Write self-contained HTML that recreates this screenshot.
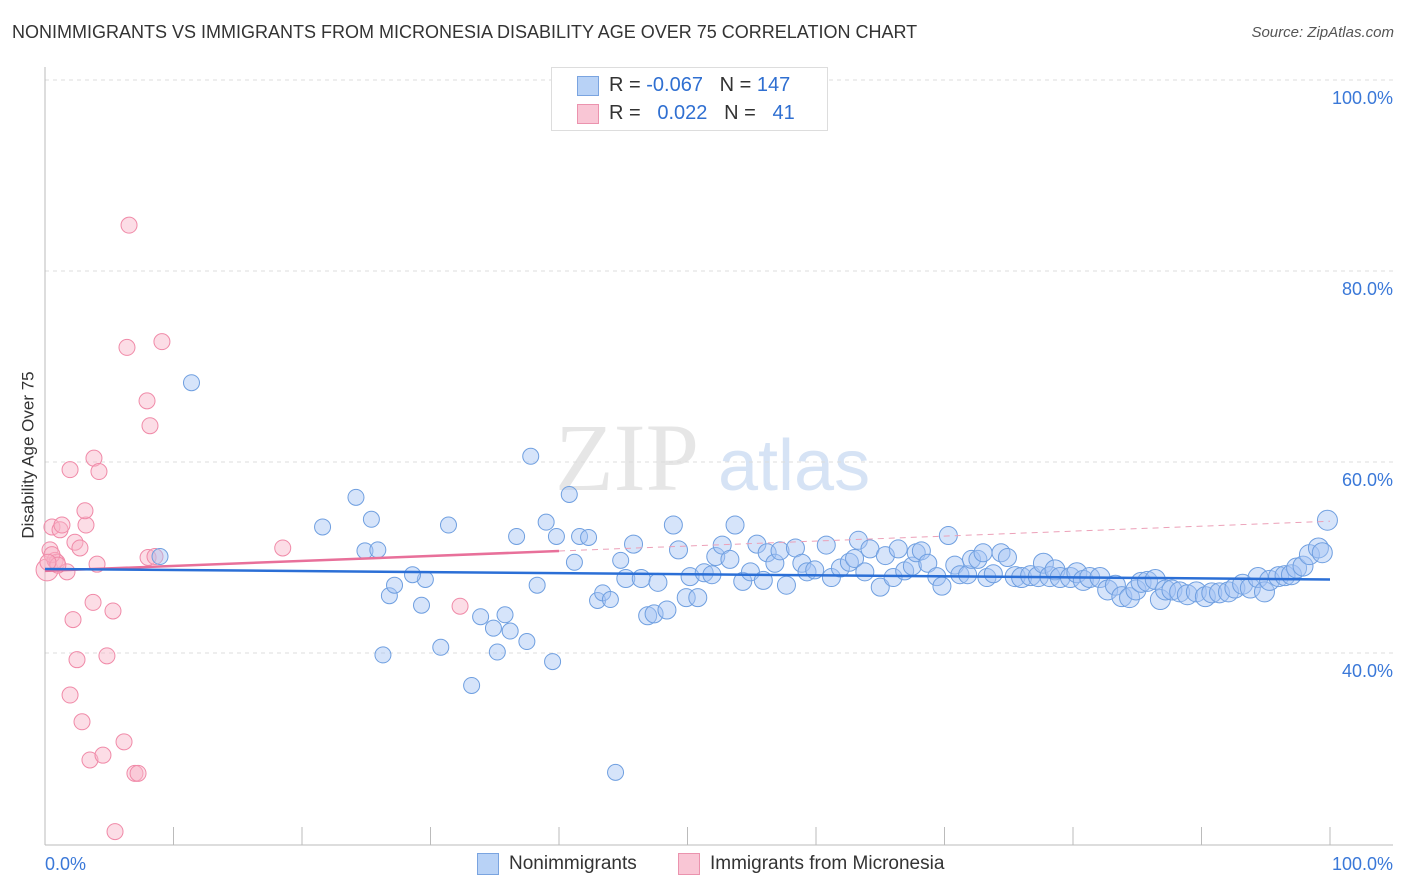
<!DOCTYPE html>
<html><head><meta charset="utf-8"><style>
body{margin:0;background:#fff;font-family:"Liberation Sans",sans-serif;}
#wrap{position:relative;width:1406px;height:892px;overflow:hidden;}
.t{position:absolute;white-space:nowrap;}
</style></head><body>
<div id="wrap">
<div class="t" style="left:12px;top:22px;font-size:18px;color:#333;">NONIMMIGRANTS VS IMMIGRANTS FROM MICRONESIA DISABILITY AGE OVER 75 CORRELATION CHART</div>
<div class="t" style="right:12px;top:24px;font-size:15px;color:#555;font-style:italic;">Source: ZipAtlas.com</div>
<div class="t" style="left:-55px;top:445px;font-size:17px;color:#333;transform:rotate(-90deg);">Disability Age Over 75</div>
<svg id="plot" width="1406" height="892" style="position:absolute;left:0;top:0;"></svg>
<div style="position:absolute;left:551px;top:67px;width:275px;height:62px;border:1px solid #ddd;background:#fff;">
 <div style="position:absolute;left:25px;top:8px;width:20px;height:18px;background:#b8d2f6;border:1px solid #7aa4e0;"></div>
 <div class="t" style="left:57px;top:6px;font-size:20px;color:#333;">R = <span style="color:#2f6fd1">-0.067</span>&nbsp;&nbsp;&nbsp;N = <span style="color:#2f6fd1">147</span></div>
 <div style="position:absolute;left:25px;top:36px;width:20px;height:18px;background:#f9c6d5;border:1px solid #eb93ae;"></div>
 <div class="t" style="left:57px;top:34px;font-size:20px;color:#333;">R = &nbsp;&nbsp;<span style="color:#2f6fd1">0.022</span>&nbsp;&nbsp;&nbsp;N = &nbsp;&nbsp;<span style="color:#2f6fd1">41</span></div>
</div>
<div style="position:absolute;left:477px;top:853px;width:20px;height:20px;background:#b8d2f6;border:1px solid #7aa4e0;"></div>
<div class="t" style="left:509px;top:853px;font-size:19px;color:#333;">Nonimmigrants</div>
<div style="position:absolute;left:678px;top:853px;width:20px;height:20px;background:#f9c6d5;border:1px solid #eb93ae;"></div>
<div class="t" style="left:710px;top:853px;font-size:19px;color:#333;">Immigrants from Micronesia</div>
</div>
<script>
const yTicks=[100,80,60,40];
const yTickLabels=["100.0%","80.0%","60.0%","40.0%"];
const xTicks=[0,10,20,30,40,50,60,70,80,90,100];
const xEndLabels=["0.0%","100.0%"];
const blueX=[8.95,11.4,21.6,24.2,24.9,25.4,25.9,26.3,26.8,27.2,29.3,29.6,28.6,30.8,31.4,33.2,33.9,34.9,35.2,35.8,36.2,36.7,37.5,37.8,38.3,39.0,39.5,39.8,40.8,41.2,41.6,42.3,43.0,43.4,44.0,44.4,44.8,45.2,45.8,46.4,46.9,47.4,47.7,48.4,48.9,49.3,49.9,50.2,50.8,51.3,51.9,52.2,52.7,53.3,53.7,54.3,54.9,55.4,55.9,56.2,56.8,57.2,57.7,58.4,58.9,59.3,59.9,60.8,61.2,61.9,62.6,63.0,63.3,63.8,64.2,65.0,65.4,66.0,66.4,66.9,67.5,67.8,68.2,68.7,69.4,69.8,70.3,70.8,71.2,71.8,72.1,72.6,73.0,73.3,73.8,74.4,74.9,75.5,76.0,76.7,77.3,77.7,78.2,78.6,79.0,79.8,80.3,80.8,81.3,82.1,82.7,83.3,83.8,84.4,84.9,85.3,85.8,86.4,86.8,87.2,87.7,88.3,88.9,89.6,90.3,90.8,91.4,92.1,92.6,93.2,93.8,94.4,94.9,95.3,96.0,96.5,97.0,97.4,97.9,98.4,99.1,99.4,99.8];
const blueY=[50.1,68.3,53.2,56.3,50.7,54.0,50.8,39.8,46.0,47.1,45.0,47.7,48.2,40.6,53.4,36.6,43.8,42.6,40.1,44.0,42.3,52.2,41.2,60.6,47.1,53.7,39.1,52.2,56.6,49.5,52.2,52.1,45.5,46.3,45.6,27.5,49.7,47.8,51.4,47.8,43.9,44.1,47.4,44.5,53.4,50.8,45.8,48.0,45.8,48.4,48.2,50.1,51.3,49.8,53.4,47.5,48.5,51.4,47.6,50.5,49.4,50.7,47.1,51.0,49.4,48.5,48.7,51.3,47.9,48.9,49.5,49.9,51.8,48.5,50.9,46.9,50.2,47.9,50.9,48.6,49.1,50.5,50.7,49.4,48.0,47.0,52.3,49.2,48.2,48.2,49.8,49.8,50.5,47.9,48.3,50.5,50.0,48.0,47.9,48.1,48.0,49.4,48.0,48.7,47.9,47.9,48.4,47.6,47.9,47.9,46.6,47.1,45.9,45.8,46.6,47.4,47.5,47.7,45.6,46.6,46.6,46.4,46.1,46.4,45.9,46.3,46.3,46.4,46.8,47.2,46.8,47.9,46.4,47.6,48.0,48.1,48.2,48.9,49.1,50.3,51.0,50.5,53.9];
const pinkX=[0.16,0.39,0.54,0.78,1.17,1.32,0.93,1.71,1.95,2.18,2.33,2.49,1.95,2.88,3.19,3.11,2.72,3.5,3.81,4.05,4.2,3.74,4.51,4.82,5.29,5.45,6.15,6.54,6.38,7.0,7.24,7.94,8.17,8.02,8.56,9.1,18.5,32.3,0.54,1.0,0.23];
const pinkY=[48.7,50.8,53.2,49.7,52.9,53.4,49.5,48.5,59.2,43.5,51.6,39.3,35.6,32.8,53.4,54.9,51.0,28.8,60.4,49.3,59.0,45.3,29.3,39.7,44.4,21.3,30.7,84.8,72.0,27.4,27.4,66.4,63.8,50.0,50.1,72.6,51.0,44.9,50.3,49.2,49.5];
const blueTrend=[48.8,47.7];
const pinkTrend=[48.6,53.8];
const pinkSolidEnd=40;

const X=v=>45+v*12.85;
const Y=v=>80+(100-v)*9.55;
const svg=document.getElementById('plot');
const NS='http://www.w3.org/2000/svg';
function mk(tag,attrs){const e=document.createElementNS(NS,tag);for(const k in attrs)e.setAttribute(k,attrs[k]);svg.appendChild(e);return e;}
// watermark
let wm=mk('text',{x:555,y:490,'font-size':96,fill:'#e6e6e6','font-family':'Liberation Serif, serif'});wm.textContent='ZIP';


let wm2=mk('text',{x:718,y:490,'font-size':72,fill:'#d6e3f5','font-family':'Liberation Sans, sans-serif'});wm2.textContent='atlas';


yTicks.forEach((t,i)=>{
 const g=mk('line',{x1:45,x2:1393,y1:Y(t),y2:Y(t),stroke:'#dcdcdc','stroke-dasharray':'4,4'});
 
 
 const l=mk('text',{x:1393,y:Y(t)+24,'text-anchor':'end','font-size':18,fill:'#3a78d8'});l.textContent=yTickLabels[i];
 
 
});
const ax=mk('line',{x1:45,x2:45,y1:67,y2:845,stroke:'#bbb'});


const bx=mk('line',{x1:45,x2:1393,y1:845,y2:845,stroke:'#bbb'});


xTicks.forEach(t=>{const tk=mk('line',{x1:X(t),x2:X(t),y1:827,y2:845,stroke:'#bbb'});
 
 });
const xl0=mk('text',{x:45,y:870,'font-size':18,fill:'#3a78d8'});xl0.textContent=xEndLabels[0];


const xl1=mk('text',{x:1393,y:870,'text-anchor':'end','font-size':18,fill:'#3a78d8'});xl1.textContent=xEndLabels[1];


pinkX.forEach((v,i)=>{const c=mk('circle',{cx:X(v),cy:Y(pinkY[i]),r:i==0?11:8,fill:'rgba(248,180,200,0.45)',stroke:'#f08aa8','stroke-width':1});
 
 });
blueX.forEach((v,i)=>{const c=mk('circle',{cx:X(v),cy:Y(blueY[i]),r:v>75?10:(v>45?9:8),fill:'rgba(164,196,244,0.45)',stroke:'#6f9fe0','stroke-width':1});
 
 });
const pm=pinkTrend[0]+(pinkTrend[1]-pinkTrend[0])*pinkSolidEnd/100;
const pd=mk('line',{x1:X(pinkSolidEnd),y1:Y(pm),x2:X(100),y2:Y(pinkTrend[1]),stroke:'#eca0b8','stroke-width':1,'stroke-dasharray':'6,5'});


const ps=mk('line',{x1:X(0),y1:Y(pinkTrend[0]),x2:X(pinkSolidEnd),y2:Y(pm),stroke:'#e8709a','stroke-width':2.5});


const bt=mk('line',{x1:X(0),y1:Y(blueTrend[0]),x2:X(100),y2:Y(blueTrend[1]),stroke:'#2b6fd6','stroke-width':2.5});


</script>
</body></html>
